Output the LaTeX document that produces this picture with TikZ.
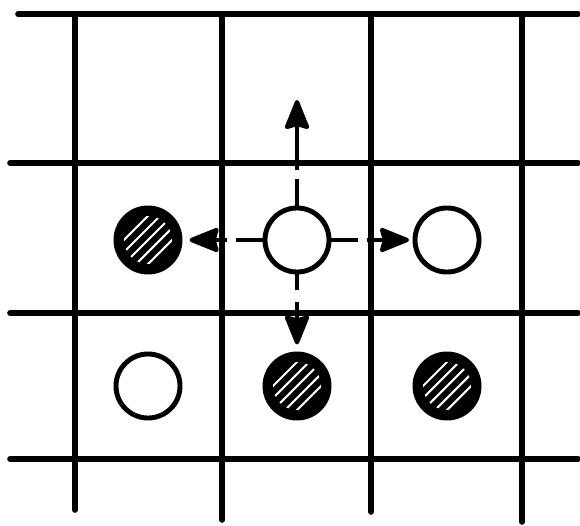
\documentclass[tikz,border=0pt]{standalone}
\usepackage{tikz}
\usetikzlibrary{arrows.meta}

\begin{document}
\begin{tikzpicture}[x=0.01cm,y=-0.01cm,
    gridline/.style={line width=1.6pt,line cap=round},
    site/.style={circle,draw,line width=1.4pt,minimum size=0.64cm,inner sep=0pt,fill=white},
    taken/.style={site,fill=black,path picture={
        \clip (path picture bounding box.center) circle (0.24cm);
        \foreach \k in {-3,...,3}
          \draw[white,line width=0.6pt]
            ([shift={(\k*0.06cm,-\k*0.06cm)}]path picture bounding box.center)
            ++(-0.3cm,-0.3cm) -- ++(0.6cm,0.6cm);}},
    hop/.style={line width=1.2pt,-{Stealth[length=9.5pt,width=7.5pt,inset=1pt,round]},
        dash pattern=on 7.5pt off 2.5pt on 60pt}]
  \useasboundingbox (0,0) rectangle (580,525);
  % lattice
  \foreach \y/\xs in {14/18,163/10,313/10,459/10}
    \draw[gridline] (\xs,\y) -- (578,\y);
  \foreach \x/\ye in {75/510,222/520,371/512,522/522}
    \draw[gridline] (\x,14) -- (\x,\ye);
  % sites
  \node[taken] (ml) at (148,240) {};
  \node[site]  (mc) at (297,240) {};
  \node[site]  (mr) at (447,240) {};
  \node[site]  (bl) at (148,386) {};
  \node[taken] (bc) at (297,386) {};
  \node[taken] (br) at (447,386) {};
  \coordinate (up) at (297,100);
  % possible hops
  \draw[hop] (mc) -- (up);
  \draw[hop,shorten >=2pt] (mc) -- (ml);
  \draw[hop,shorten >=1pt] (mc) -- (mr);
  \draw[hop,shorten >=2pt,dash pattern=on 4.3pt off 3.5pt on 60pt] (mc) -- (bc);
\end{tikzpicture}
\end{document}
